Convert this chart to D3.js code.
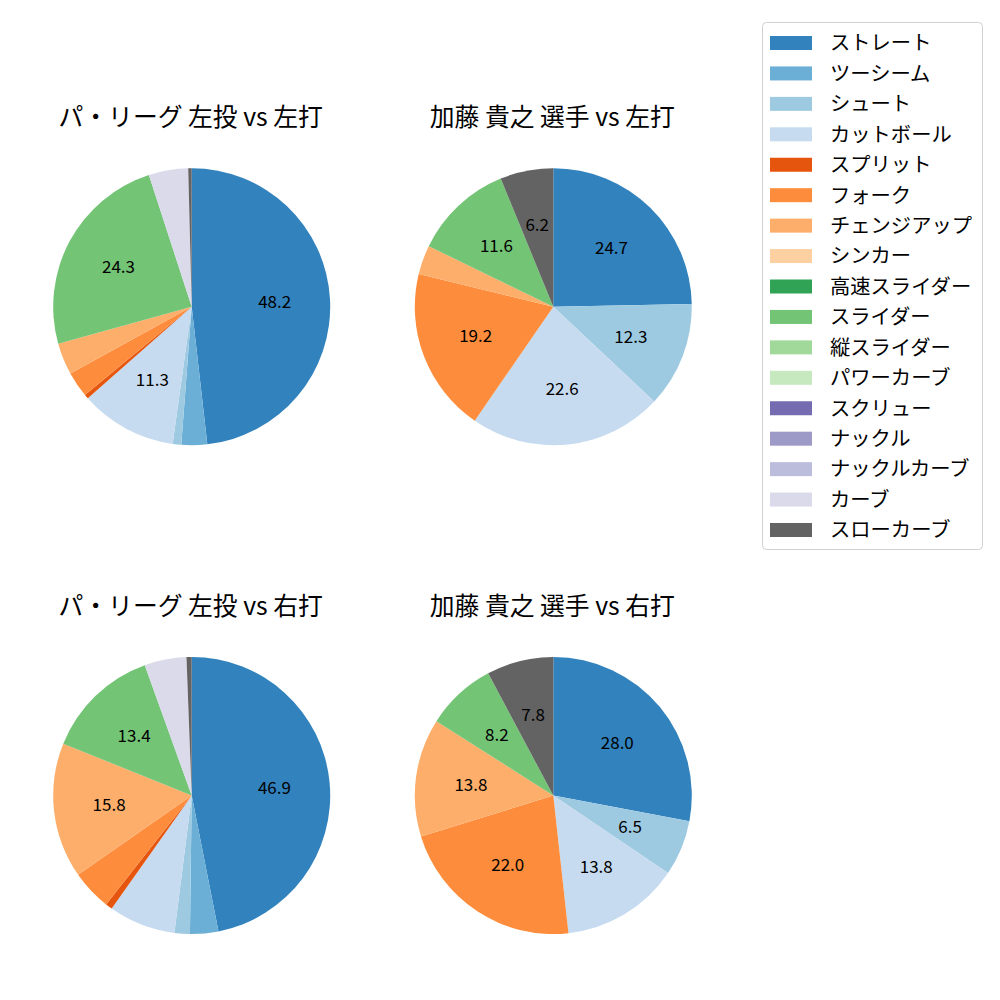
<!DOCTYPE html>
<html>
<head>
<meta charset="utf-8">
<script src="https://cdn.jsdelivr.net/npm/d3@7"></script>
<style>
  html, body { margin: 0; padding: 0; background: #fff; }
  svg text { font-family: "Noto Sans CJK JP", "Noto Sans", sans-serif; }
</style>
</head>
<body>
<svg id="chart" width="1000" height="1000"></svg>
<script>
// ---- data ----
const pitchTypes = ["ストレート","ツーシーム","シュート","カットボール","スプリット","フォーク","チェンジアップ","シンカー","高速スライダー","スライダー","縦スライダー","パワーカーブ","スクリュー","ナックル","ナックルカーブ","カーブ","スローカーブ"];
const pitchColors = ["#3182bd","#6baed6","#9ecae1","#c6dbef","#e6550d","#fd8d3c","#fdae6b","#fdd0a2","#31a354","#74c476","#a1d99b","#c7e9c0","#756bb1","#9e9ac8","#bcbddc","#dadaeb","#636363"];
const chartTitles = ["パ・リーグ 左投 vs 左打","加藤 貴之 選手 vs 左打","パ・リーグ 左投 vs 右打","加藤 貴之 選手 vs 右打"];
//                      St    2S   Sh   Cut   Spl  Fk   Ch    Si  HSl  Sl    VSl PC  Scr Kn  KC  Cv   SCv
const leagueVsLeft  = [48.2, 3.0, 1.0, 11.3, 0.5, 3.0, 3.7, 0,  0,  24.3, 0,  0,  0,  0,  0,  4.6, 0.4];
const katoVsLeft    = [24.7, 0,   12.3, 22.6, 0,  19.2, 3.4, 0,  0,  11.6, 0,  0,  0,  0,  0,  0,   6.2];
const leagueVsRight = [46.9, 3.3, 1.8, 7.8,  0.8, 4.7, 15.8, 0,  0,  13.4, 0,  0,  0,  0,  0,  4.9, 0.6];
const katoVsRight   = [28.0, 0,   6.5, 13.8, 0,   22.0, 13.8, 0, 0,  8.2,  0,  0,  0,  0,  0,  0,   7.8];
const seriesList = [leagueVsLeft, katoVsLeft, leagueVsRight, katoVsRight];
// minimum share (%) that gets a printed label, per chart
const labelThresholds = [10, 5, 10, 5];

// ---- layout ----
const svg = d3.select("#chart");
const R = 138.5;
const centersX = [191.7, 553.3, 191.7, 553.3];
const centersY = [306.7, 306.7, 795.5, 795.5];
const titleY = [126, 126, 615, 615];

const color = d3.scaleOrdinal().domain(pitchTypes).range(pitchColors);
const pie = d3.pie().sort(null).value(d => d.value).startAngle(0).endAngle(2 * Math.PI);
const arc = d3.arc().innerRadius(0).outerRadius(R);
const labelArc = d3.arc().innerRadius(R * 0.6).outerRadius(R * 0.6);

seriesList.forEach((vals, i) => {
  const data = pitchTypes.map((name, k) => ({ name, value: vals[k] })).filter(d => d.value > 0);
  const g = svg.append("g").attr("transform", `translate(${centersX[i]},${centersY[i]})`);
  const arcs = pie(data);
  g.selectAll("path").data(arcs).enter().append("path")
    .attr("d", arc)
    .attr("fill", d => color(d.data.name));
  g.selectAll("text.lbl").data(arcs.filter(d => d.data.value >= labelThresholds[i])).enter().append("text")
    .attr("class", "lbl")
    .attr("transform", d => `translate(${labelArc.centroid(d)})`)
    .attr("text-anchor", "middle")
    .attr("dy", "0.36em")
    .attr("font-size", 17)
    .attr("fill", "#000")
    .text(d => d.data.value.toFixed(1));
  svg.append("text")
    .attr("x", centersX[i] - 1).attr("y", titleY[i])
    .attr("text-anchor", "middle")
    .attr("font-size", 24.8)
    .attr("fill", "#000")
    .text(chartTitles[i]);
});

// ---- legend ----
const lg = svg.append("g");
lg.append("rect")
  .attr("x", 762.5).attr("y", 22.5).attr("width", 220).attr("height", 527)
  .attr("rx", 4).attr("ry", 4)
  .attr("fill", "#fff").attr("stroke", "#d0d0d0").attr("stroke-width", 1);
const legendY = d3.scalePoint().domain(pitchTypes).range([43, 530]);
const items = lg.selectAll("g.item").data(pitchTypes).enter().append("g")
  .attr("class", "item")
  .attr("transform", d => `translate(0,${legendY(d)})`);
items.append("rect")
  .attr("x", 770).attr("y", -7).attr("width", 42).attr("height", 14)
  .attr("fill", d => color(d));
items.append("text")
  .attr("x", 830).attr("dy", "0.36em")
  .attr("font-size", 20.3)
  .attr("fill", "#000")
  .text(d => d);
</script>
</body>
</html>
